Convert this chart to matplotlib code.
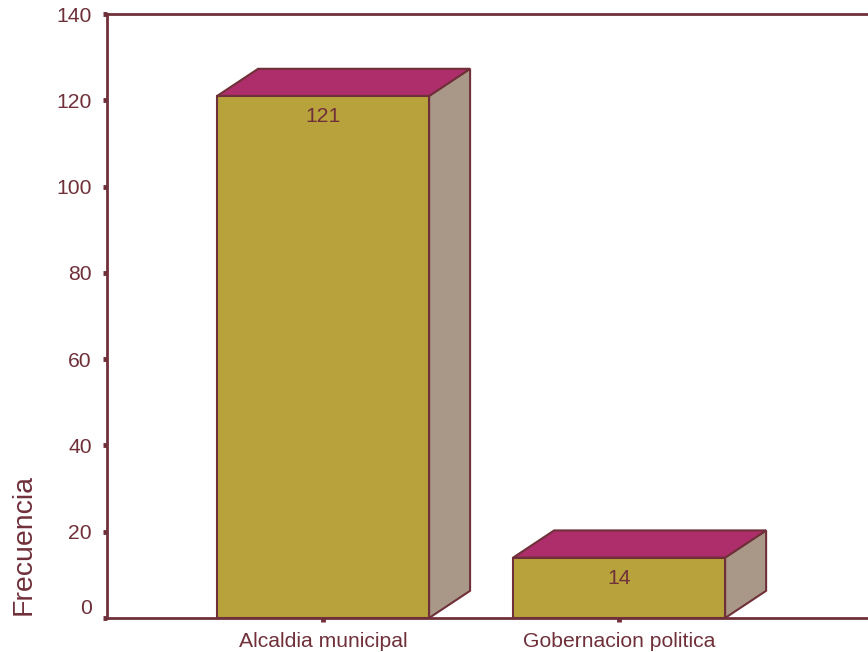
import numpy as np
import matplotlib.pyplot as plt
from matplotlib.patches import Polygon
from matplotlib.transforms import ScaledTranslation

plt.rcParams['font.family'] = ['Liberation Sans', 'DejaVu Sans']

categories = ['Alcaldia municipal', 'Gobernacion politica']
values = [121, 14]
yticks = [0, 20, 40, 60, 80, 100, 120, 140]

maroon = '#70303A'
front_c = '#B8A23C'
top_c = '#AE2E6B'
side_c = '#A99888'

fig = plt.figure(figsize=(8.68, 6.52), dpi=100)
ax = fig.add_axes([107 / 868, 34 / 652, 1 - 107 / 868 + 0.01, 604 / 652])

width = 0.716
ddx = 0.1385
ddy = 6.3

x = np.arange(len(categories))
for xi, v in zip(x, values):
    x0, x1 = xi - width / 2, xi + width / 2
    front = Polygon([(x0, 0), (x1, 0), (x1, v), (x0, v)], closed=True,
                    facecolor=front_c, edgecolor=maroon, lw=1.5, zorder=3)
    top = Polygon([(x0, v), (x1, v), (x1 + ddx, v + ddy), (x0 + ddx, v + ddy)],
                  closed=True, facecolor=top_c, edgecolor=maroon, lw=1.5, zorder=3)
    side = Polygon([(x1, 0), (x1, v), (x1 + ddx, v + ddy), (x1 + ddx, ddy)],
                   closed=True, facecolor=side_c, edgecolor=maroon, lw=1.5, zorder=3)
    for p in (side, top, front):
        ax.add_patch(p)
    ax.text(xi, v - 4.8, str(v), ha='center', va='center', fontsize=15.2,
            color=maroon, zorder=4)

ax.set_xlim(-0.73, 1.87)
ax.set_ylim(0, 140)
ax.set_yticks(yticks)
ax.set_xticks(x)
ax.set_xticklabels(categories)
ax.set_ylabel('Frecuencia', fontsize=20.5, color=maroon)
ax.yaxis.set_label_coords(-0.092, 0.122)

for s in ['left', 'top', 'bottom']:
    ax.spines[s].set_color(maroon)
    ax.spines[s].set_linewidth(2)
ax.spines['right'].set_visible(False)

ax.tick_params(axis='both', colors=maroon, labelsize=15.2, length=3, width=3.5)
ax.tick_params(axis='y', pad=8)
ax.tick_params(axis='x', pad=7)

# the "0" label sits a bit above its tick in the original
lab0 = ax.get_yticklabels()[0]
lab0.set_transform(lab0.get_transform() + ScaledTranslation(0, 12 / 100, fig.dpi_scale_trans))

fig.savefig('out.png', dpi=100)
